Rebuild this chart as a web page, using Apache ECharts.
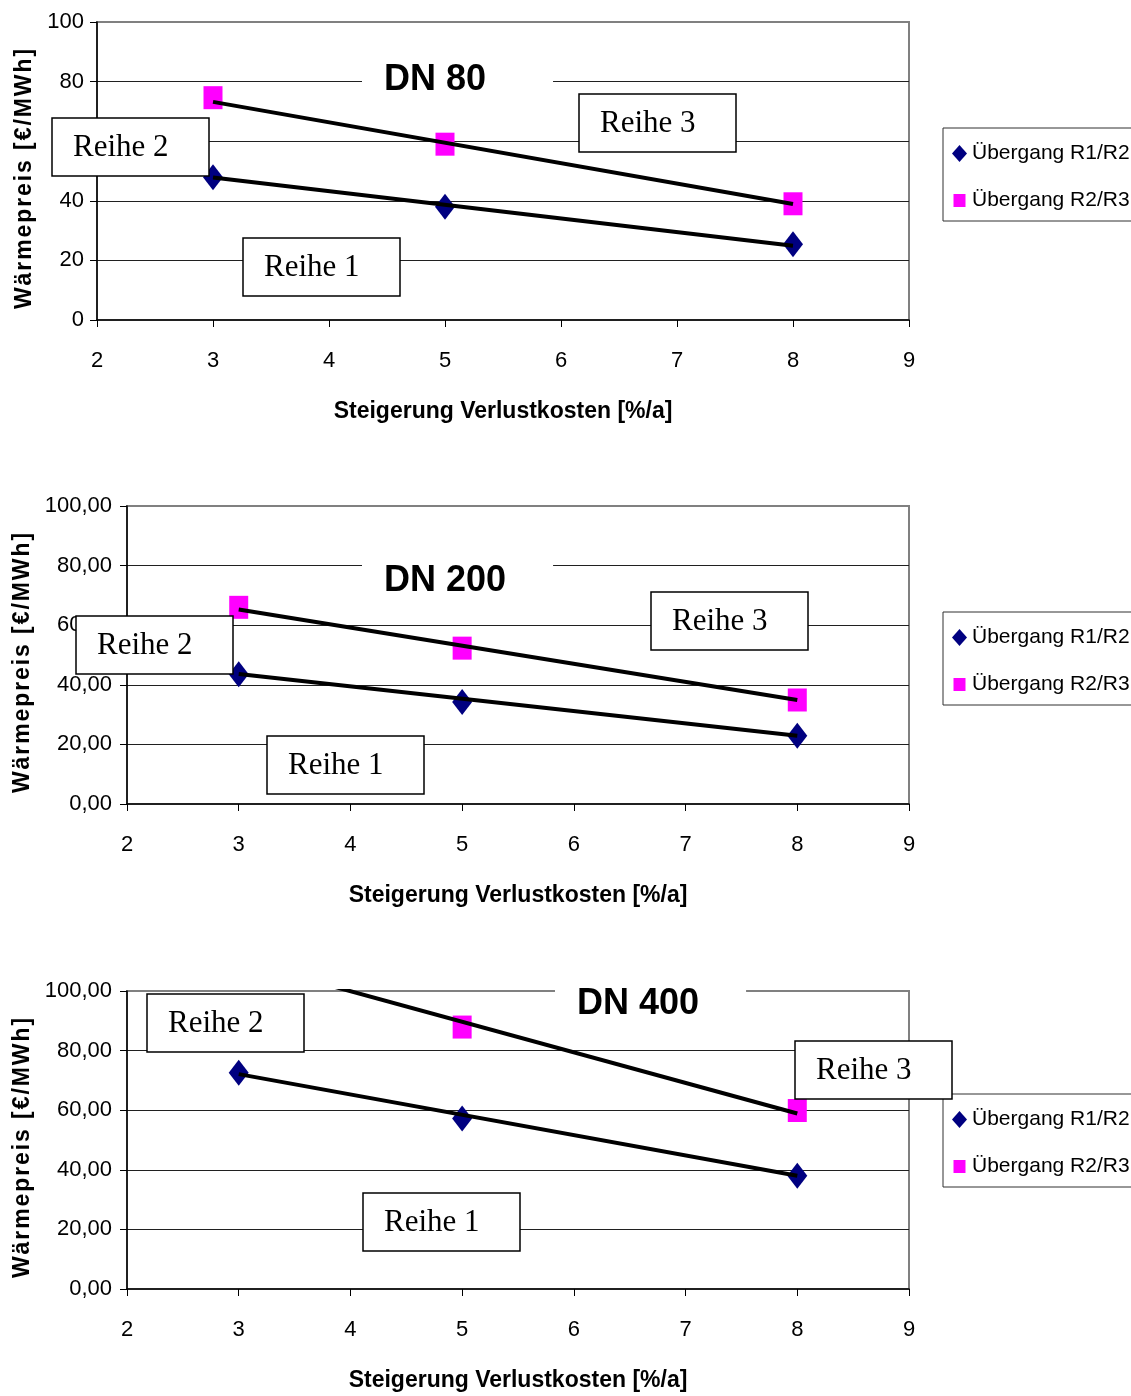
<!DOCTYPE html>
<html><head><meta charset="utf-8">
<script src="https://cdn.jsdelivr.net/npm/echarts@6/dist/echarts.min.js"></script>
<style>html,body{margin:0;padding:0;background:#fff}#c{width:1131px;height:1396px}</style>
</head><body><div id="c"></div>
<script>
// ---- data ----
const xValues = [3, 5, 8];
const trendX = [3, 8];
const xTickLabels = ['2','3','4','5','6','7','8','9'];
const yTickLabelsInt = ['0','20','40','60','80','100'];
const yTickLabelsDec = ['0,00','20,00','40,00','60,00','80,00','100,00'];
const chartTitles = ['DN 80','DN 200','DN 400'];
const seriesNames = ['Übergang R1/R2','Übergang R2/R3'];
const boxLabels = ['Reihe 1','Reihe 2','Reihe 3'];
const xTitle = 'Steigerung Verlustkosten [%/a]';
const yTitle = 'Wärmepreis [€/MWh]';

const dn80R1R2 = [47.9, 38.0, 25.4];
const dn80R2R3 = [74.6, 59.0, 39.0];
const dn80TrendR1R2 = [47.8, 24.9];
const dn80TrendR2R3 = [73.2, 38.9];

const dn200R1R2 = [43.5, 34.2, 22.9];
const dn200R2R3 = [66.0, 52.3, 34.9];
const dn200TrendR1R2 = [43.6, 22.9];
const dn200TrendR2R3 = [65.3, 34.9];

const dn400R1R2 = [72.6, 57.2, 38.0];
const dn400R2R3 = [111.0, 87.9, 59.9];
const dn400TrendR1R2 = [72.1, 38.0];
const dn400TrendR2R3 = [110.2, 58.9];

const charts = [
  {r12: dn80R1R2, r23: dn80R2R3, t12: dn80TrendR1R2, t23: dn80TrendR2R3, yLabels: yTickLabelsInt},
  {r12: dn200R1R2, r23: dn200R2R3, t12: dn200TrendR1R2, t23: dn200TrendR2R3, yLabels: yTickLabelsDec},
  {r12: dn400R1R2, r23: dn400R2R3, t12: dn400TrendR1R2, t23: dn400TrendR2R3, yLabels: yTickLabelsDec}
];

// ---- layout / style ----
const SANS = "'Liberation Sans', Arial, sans-serif";
const SERIF = "'Liberation Serif', 'Times New Roman', serif";
const NAVY = '#000080', MAGENTA = '#FF00FF';

const grids = [
  {left: 97, top: 22, width: 812, height: 298},
  {left: 127, top: 506, width: 782, height: 298},
  {left: 127, top: 991, width: 782, height: 298}
];
const yLabelMargin = [13, 15, 15];
const yNameGap = [57, 87, 87];
const legendTops = [128, 612, 1094];
const titlePos = [
  {left: 362, top: 54, padR: 67},
  {left: 362, top: 555, padR: 47},
  {left: 555, top: 978, padR: 47}
];
const boxPos = [
  [{x: 243, y: 238}, {x: 52, y: 118}, {x: 579, y: 94}],
  [{x: 267, y: 736}, {x: 76, y: 616}, {x: 651, y: 592}],
  [{x: 363, y: 1193}, {x: 147, y: 994}, {x: 795, y: 1041}]
];

const spaced = s => s.split('').join('\u200A');

const option = {
  animation: false,
  backgroundColor: '#fff',
  grid: grids.map(g => Object.assign({show: true, borderColor: '#808080', borderWidth: 2,
    backgroundColor: 'transparent', containLabel: false, outerBoundsMode: 'none'}, g)),
  xAxis: grids.map((g, i) => ({
    gridIndex: i, type: 'value', min: 2, max: 9, interval: 1,
    axisLine: {show: true, onZero: false, lineStyle: {color: '#000', width: 1.5}},
    axisTick: {show: true, length: 7, lineStyle: {color: '#000', width: 1}},
    axisLabel: {margin: 30, color: '#000', fontFamily: SANS, fontSize: 22,
      formatter: v => xTickLabels[Math.round(v) - 2]},
    splitLine: {show: false},
    name: xTitle, nameLocation: 'middle', nameGap: 80,
    nameTextStyle: {color: '#000', fontFamily: SANS, fontWeight: 'bold', fontSize: 23}
  })),
  yAxis: grids.map((g, i) => ({
    gridIndex: i, type: 'value', min: 0, max: 100, interval: 20,
    axisLine: {show: true, onZero: false, lineStyle: {color: '#000', width: 1.5}},
    axisTick: {show: true, length: 7, lineStyle: {color: '#000', width: 1}},
    axisLabel: {margin: yLabelMargin[i], color: '#000', fontFamily: SANS, fontSize: 22,
      formatter: v => charts[i].yLabels[Math.round(v / 20)]},
    splitLine: {show: true, showMaxLine: false, showMinLine: false, lineStyle: {color: '#202020', width: 1}},
    name: spaced(yTitle), nameLocation: 'middle', nameGap: yNameGap[i], nameRotate: 90,
    nameTextStyle: {color: '#000', fontFamily: SANS, fontWeight: 'bold', fontSize: 23, padding: [0, 16, 0, 0]}
  })),
  title: chartTitles.map((t, i) => ({
    text: t, left: titlePos[i].left, top: titlePos[i].top,
    padding: [8, titlePos[i].padR, 8, 22], backgroundColor: '#fff',
    textStyle: {color: '#000', fontFamily: SANS, fontWeight: 'bold', fontSize: 36}
  })),
  legend: legendTops.map(t => ({
    orient: 'vertical', left: 943, top: t, data: [
      {name: seriesNames[0], icon: 'diamond'},
      {name: seriesNames[1], icon: 'path://M0,0M15,17M1.5,2L13.5,2L13.5,15L1.5,15Z'}],
    itemWidth: 15, itemHeight: 17, itemGap: 26,
    padding: [15, 30, 10, 9],
    borderColor: '#303030', borderWidth: 1, backgroundColor: '#fff',
    selectedMode: false,
    textStyle: {color: '#000', fontFamily: SANS, fontSize: 21}
  })),
  series: [],
  graphic: []
};

charts.forEach((c, i) => {
  option.series.push(
    {type: 'scatter', name: seriesNames[0], xAxisIndex: i, yAxisIndex: i, z: 3,
      symbol: 'diamond', symbolSize: [20, 26], itemStyle: {color: NAVY, opacity: 1},
      data: xValues.map((x, j) => [x, c.r12[j]])},
    {type: 'scatter', name: seriesNames[1], xAxisIndex: i, yAxisIndex: i, z: 3,
      symbol: 'rect', symbolSize: [19, 23], itemStyle: {color: MAGENTA, opacity: 1},
      data: xValues.map((x, j) => [x, c.r23[j]])},
    {type: 'line', name: 'Trend R1/R2 ' + chartTitles[i], xAxisIndex: i, yAxisIndex: i, z: 4,
      symbol: 'none', silent: true, lineStyle: {color: '#000', width: 4},
      data: trendX.map((x, j) => [x, c.t12[j]])},
    {type: 'line', name: 'Trend R2/R3 ' + chartTitles[i], xAxisIndex: i, yAxisIndex: i, z: 4,
      symbol: 'none', silent: true, clip: true, lineStyle: {color: '#000', width: 4},
      data: trendX.map((x, j) => [x, c.t23[j]])}
  );
  boxPos[i].forEach((p, k) => {
    option.graphic.push({
      type: 'group', x: p.x, y: p.y, z: 100,
      children: [
        {type: 'rect', z: 100, shape: {x: 0, y: 0, width: 157, height: 58},
          style: {fill: '#fff', stroke: '#000', lineWidth: 1.5}},
        {type: 'text', z: 101, x: 21, y: 30,
          style: {text: boxLabels[k], fill: '#000', font: '31px ' + SERIF, verticalAlign: 'middle', align: 'left'}}
      ]
    });
  });
});

const chart = echarts.init(document.getElementById('c'), null, {renderer: 'canvas'});
chart.setOption(option);
</script>
</body></html>
